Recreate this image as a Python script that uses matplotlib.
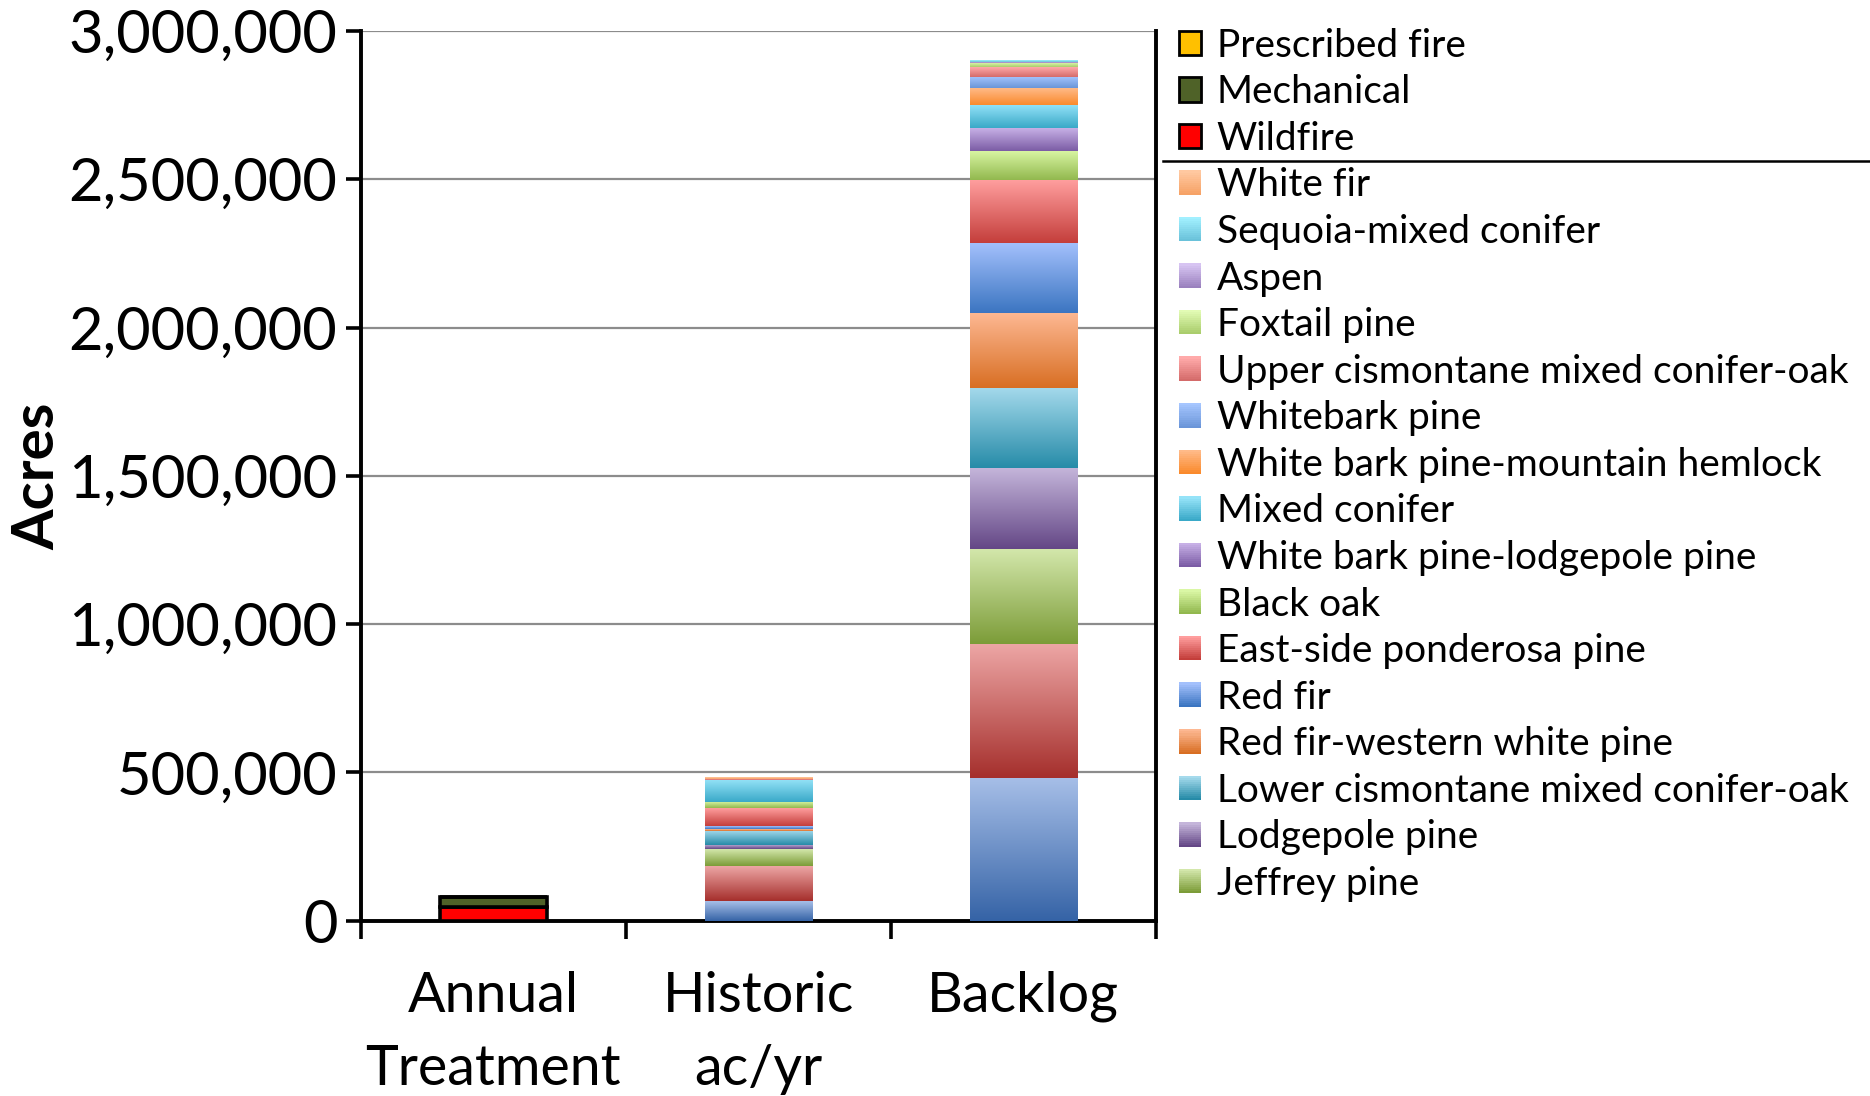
import numpy as np
import matplotlib
matplotlib.use("Agg")
import matplotlib.pyplot as plt
from matplotlib.colors import LinearSegmentedColormap
from matplotlib.patches import Patch, Rectangle
from matplotlib.legend_handler import HandlerBase
from matplotlib.lines import Line2D
from matplotlib.ticker import FuncFormatter

plt.rcParams['font.family'] = ['Lato', 'DejaVu Sans']

categories = ["Annual\nTreatment", "Historic\nac/yr", "Backlog"]

# treatments (only in the Annual column), bottom-up
treatments = ["Wildfire", "Mechanical", "Prescribed fire"]
treatment_vals = [46500, 32000, 2000]
treatment_colors = ["#FF0000", "#4F6228", "#FFC000"]

# vegetation types, bottom-up; first two have no legend entry
species = [None, None, "Jeffrey pine", "Lodgepole pine",
           "Lower cismontane mixed conifer-oak", "Red fir-western white pine",
           "Red fir", "East-side ponderosa pine", "Black oak",
           "White bark pine-lodgepole pine", "Mixed conifer",
           "White bark pine-mountain hemlock", "Whitebark pine",
           "Upper cismontane mixed conifer-oak", "Foxtail pine", "Aspen",
           "Sequoia-mixed conifer", "White fir"]
historic = [66800, 118000, 57300, 13500, 48200, 6700, 9100, 59700, 21200,
            0, 74200, 0, 0, 4400, 0, 0, 0, 4700]
backlog = [482500, 450700, 320300, 273100, 270700, 251900, 236000, 212400,
           97800, 77500, 77600, 57300, 37100, 32700, 13500, 5400, 5700, 1500]

# (bottom/dark, top/light) gradient colours
species_colors = [
    ("#3563A6", "#A7BFE8"), ("#A52F2C", "#EDA6A5"), ("#7C9C38", "#D3E7AB"),
    ("#644786", "#C4B5DA"), ("#268BA8", "#A5DAEC"), ("#D86E23", "#FDB892"),
    ("#3B75C1", "#A3C0FC"), ("#C43E3B", "#FF9E9E"), ("#92B84E", "#DAF7A5"),
    ("#7B5CA5", "#C7B0E6"), ("#3AA9C8", "#95E3F8"), ("#FA8A2C", "#FFBA88"),
    ("#6A95D8", "#A6C6FF"), ("#D46B6A", "#FFAAAA"), ("#AACD6C", "#E2FBB4"),
    ("#9A81BE", "#D7C4F2"), ("#6AC2DA", "#A2F0FF"), ("#F6A266", "#FFC8A0"),
]


class GradHandle:
    def __init__(self, dark, light):
        self.cmap = LinearSegmentedColormap.from_list("g", [dark, light])


class GradHandler(HandlerBase):
    def create_artists(self, legend, orig_handle, xdescent, ydescent,
                       width, height, fontsize, trans):
        n = 12
        arts = []
        for i in range(n):
            r = Rectangle((-xdescent, -ydescent + i * height / n), width,
                          height / n + 0.3, facecolor=orig_handle.cmap(i / (n - 1)),
                          edgecolor='none', transform=trans)
            arts.append(r)
        return arts


fig = plt.figure(figsize=(18.7, 10.96), dpi=100)
ax = fig.add_axes([0.193, 0.1599, 0.425, 0.8118])

x = np.arange(len(categories))
width = 0.405

# treatments in the Annual column
bottom = 0
for name, v, c in zip(treatments, treatment_vals, treatment_colors):
    ax.bar(x[0], v, width, bottom=bottom, color=c, edgecolor='black',
           linewidth=2.6, zorder=3)
    bottom += v

# vegetation stacks with vertical gradients
bottoms = np.zeros(2)
for name, h, b, (dark, light) in zip(species, historic, backlog, species_colors):
    vals = np.array([h, b])
    cmap = LinearSegmentedColormap.from_list("g", [dark, light])
    bars = ax.bar(x[1:], vals, width, bottom=bottoms, color=dark,
                  linewidth=0, zorder=3)
    for rect in bars:
        if rect.get_height() <= 0:
            continue
        x0, y0 = rect.get_x(), rect.get_y()
        im = ax.imshow(np.linspace(0, 1, 256).reshape(-1, 1), cmap=cmap,
                       origin='lower', aspect='auto', zorder=3.5,
                       extent=[x0, x0 + rect.get_width(), y0, y0 + rect.get_height()])
        im.set_clip_path(rect)
    bottoms += vals

ax.set_xlim(-0.5, 2.5)
ax.set_ylim(0, 3000000)
ax.set_yticks(np.arange(0, 3000001, 500000))
ax.yaxis.set_major_formatter(FuncFormatter(lambda v, p: f"{int(v):,}"))
ax.yaxis.grid(True, color='#8C8C8C', linewidth=1.6, zorder=0)
ax.set_axisbelow(True)

ax.set_xticks([-0.5, 0.5, 1.5, 2.5])
ax.set_xticklabels([])
ax.set_xticks(x, minor=True)
ax.set_xticklabels(categories, minor=True, fontsize=40, linespacing=1.55)
ax.tick_params(axis='x', which='major', direction='out', length=13, width=2.6)
ax.tick_params(axis='x', which='minor', length=0, pad=36)
ax.tick_params(axis='y', direction='out', length=11, width=2.6, labelsize=43, pad=6)

for s in ['left', 'bottom', 'right']:
    ax.spines[s].set_linewidth(2.8)
ax.spines['top'].set_visible(False)

ax.set_ylabel("Acres", fontsize=42, fontweight='bold', va='center')
ax.yaxis.set_label_coords(-0.407, 0.5)

# legend: treatments on top, then vegetation types (reverse stacking order)
handles, labels = [], []
for name, c in zip(treatments[::-1], treatment_colors[::-1]):
    handles.append(Patch(facecolor=c, edgecolor='black', linewidth=2))
    labels.append(name)
for name, (dark, light) in zip(species[::-1], species_colors[::-1]):
    if name is None:
        continue
    handles.append(GradHandle(dark, light))
    labels.append(name)

leg = fig.legend(handles, labels, loc='upper left',
                 bbox_to_anchor=(0.622, 0.989), frameon=False, fontsize=28,
                 handlelength=0.58, handleheight=0.58, handletextpad=0.4,
                 labelspacing=0.272, borderaxespad=0,
                 handler_map={GradHandle: GradHandler()})

fig.add_artist(Line2D([0.622, 1.0], [1 - 161 / 1096, 1 - 161 / 1096],
                      transform=fig.transFigure, color='black', linewidth=1.8))

fig.savefig("out.png", dpi=100)
